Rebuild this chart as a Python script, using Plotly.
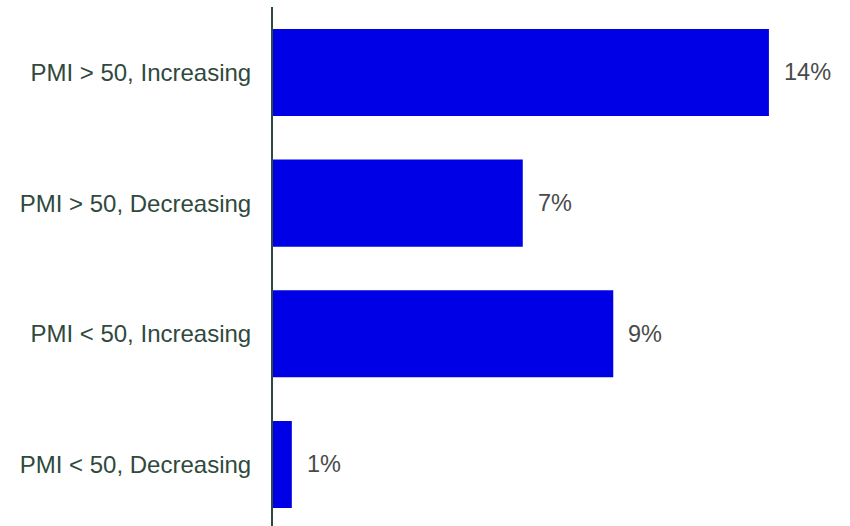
import plotly.graph_objects as go

categories = ["PMI > 50, Increasing", "PMI > 50, Decreasing", "PMI < 50, Increasing", "PMI < 50, Decreasing"]
values = [13.7, 6.9, 9.4, 0.52]
labels = ["14%", "7%", "9%", "1%"]

fig = go.Figure(go.Bar(
    x=values, y=categories, orientation="h",
    marker=dict(color="#0000E6", line=dict(width=0)),
    hoverinfo="skip",
))

for v, c, t in zip(values, categories, labels):
    fig.add_annotation(x=v, y=c, text=t, showarrow=False, xanchor="left",
                       xshift=13, font=dict(family="Liberation Sans, Arial", size=23.5, color="#4a4a4a"))

fig.update_layout(
    width=850, height=526,
    margin=dict(l=273, r=0, t=7, b=0),
    paper_bgcolor="white", plot_bgcolor="white",
    bargap=0.334,
    showlegend=False,
    font=dict(family="Liberation Sans, Arial", size=24, color="#2f4a3d"),
)
fig.update_xaxes(range=[0, 15.94], visible=False, showgrid=False, zeroline=False)
fig.update_yaxes(
    categoryorder="array", categoryarray=categories,
    range=[3.471, -0.501],
    showline=True, linecolor="#2f4a44", linewidth=2,
    showgrid=False, zeroline=False,
    ticks="", ticklabelstandoff=15,
    tickfont=dict(family="Liberation Sans, Arial", size=24, color="#2f4a3d"),
)

fig.write_html("out.html")
